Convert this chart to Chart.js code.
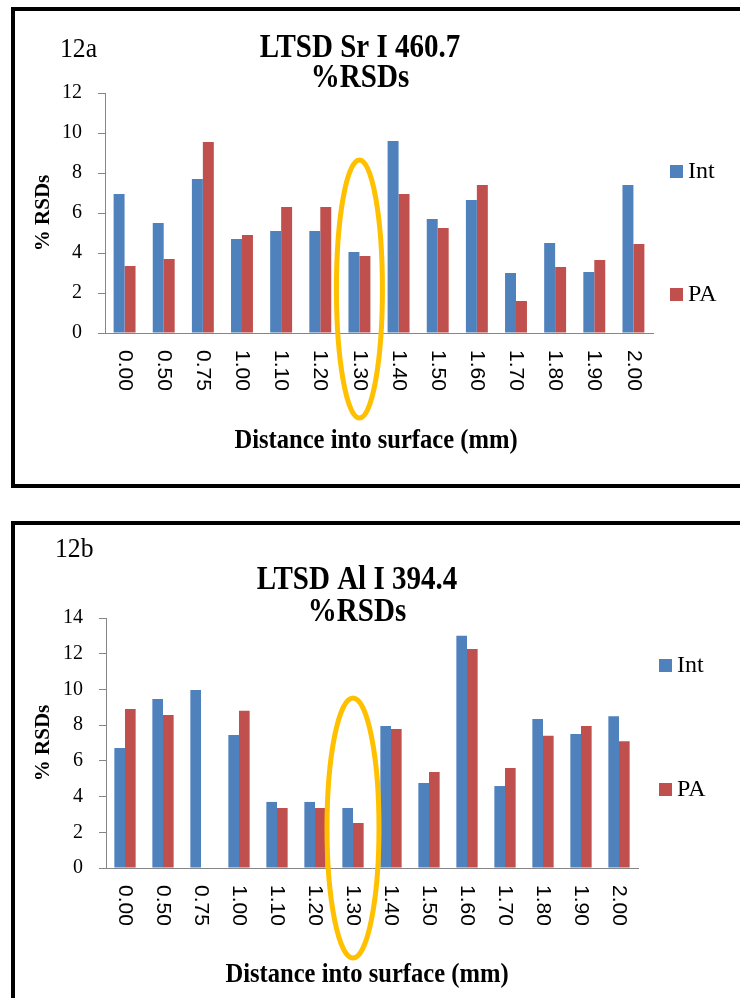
<!DOCTYPE html>
<html><head><meta charset="utf-8">
<script src="https://cdn.jsdelivr.net/npm/chart.js@4.4.1/dist/chart.umd.min.js"></script>
<style>
html,body{margin:0;padding:0;background:#fff;}
body{width:740px;height:998px;position:relative;overflow:hidden;}
.box{position:absolute;left:11px;width:800px;border:4px solid #000;box-sizing:border-box;}
canvas{position:absolute;left:0;}
</style></head><body>
<div class="box" style="top:7px;height:481px;"></div>
<div class="box" style="top:521px;height:600px;"></div>
<canvas id="c1" width="740" height="490" style="top:0"></canvas>
<canvas id="c2" width="740" height="498" style="top:500px"></canvas>
<script>
const categories = ['0.00','0.50','0.75','1.00','1.10','1.20','1.30','1.40','1.50','1.60','1.70','1.80','1.90','2.00'];
const seriesNames = ['Int','PA'];
const srInt = [6.95, 5.5, 7.7, 4.7, 5.1, 5.1, 4.05, 9.6, 5.7, 6.65, 3.0, 4.5, 3.05, 7.4];
const srPA  = [3.35, 3.7, 9.55, 4.9, 6.3, 6.3, 3.85, 6.95, 5.25, 7.4, 1.6, 3.3, 3.65, 4.45];
const alInt = [6.72, 9.47, 9.97, 7.45, 3.7, 3.7, 3.36, 7.95, 4.76, 13.0, 4.59, 8.35, 7.5, 8.5];
const alPA  = [8.9, 8.57, null, 8.8, 3.36, 3.36, 2.52, 7.79, 5.38, 12.27, 5.6, 7.4, 7.95, 7.1];
const topTitle = ['LTSD Sr I 460.7', '%RSDs'];
const botTitle = ['LTSD Al I 394.4', '%RSDs'];
const yTitle = '% RSDs';
const xTitle = 'Distance into surface (mm)';
const highlight = '1.30';

const COL_INT = '#4F81BD', COL_PA = '#C0504D';

function squeezedText(ctx, txt, x, y, sx) {
  ctx.save(); ctx.translate(x, y); ctx.scale(sx, 1); ctx.fillText(txt, 0, 0); ctx.restore();
}

const decor = {
  id: 'decor',
  afterDraw(chart) {
    const o = chart.options.plugins.decor;
    const ctx = chart.ctx, xs = chart.scales.x;
    ctx.save();
    ctx.fillStyle = '#000';
    // tag
    ctx.font = '27px "Liberation Serif"'; ctx.textAlign = 'left'; ctx.textBaseline = 'alphabetic';
    squeezedText(ctx, o.tag, o.tagX, o.tagY, 0.95);
    // title
    ctx.font = 'bold 33px "Liberation Serif"'; ctx.textAlign = 'center';
    squeezedText(ctx, o.title[0], o.titleX, o.titleY1, 0.88);
    squeezedText(ctx, o.title[1], o.titleX, o.titleY2, 0.88);
    // y title
    ctx.save();
    ctx.translate(o.yTitleX, (chart.chartArea.top + chart.chartArea.bottom) / 2);
    ctx.rotate(-Math.PI / 2);
    ctx.font = 'bold 21px "Liberation Serif"'; ctx.textAlign = 'center'; ctx.textBaseline = 'middle';
    ctx.fillText(yTitle, 0, 0);
    ctx.restore();
    // x tick labels rotated clockwise
    ctx.font = '21px "Liberation Sans"'; ctx.textAlign = 'left'; ctx.textBaseline = 'middle';
    chart.data.labels.forEach((lab, i) => {
      const x = xs.getPixelForValue(i);
      ctx.save(); ctx.translate(x, chart.chartArea.bottom + o.xLabGap); ctx.rotate(Math.PI / 2);
      ctx.fillText(lab, 0, 0); ctx.restore();
    });
    // x title
    ctx.font = 'bold 27px "Liberation Serif"'; ctx.textAlign = 'center'; ctx.textBaseline = 'alphabetic';
    squeezedText(ctx, xTitle, o.xTitleX, o.xTitleY, 0.91);
    // legend
    chart.data.datasets.forEach((ds, i) => {
      const p = o.legend[i];
      ctx.fillStyle = ds.backgroundColor; ctx.fillRect(p[0], p[1], 13, 13);
      ctx.fillStyle = '#000'; ctx.font = '24px "Liberation Serif"';
      ctx.textAlign = 'left'; ctx.textBaseline = 'middle';
      ctx.fillText(ds.label, p[0] + 18, p[1] + 7);
    });
    // highlight ellipse
    const cx = xs.getPixelForValue(chart.data.labels.indexOf(highlight));
    ctx.beginPath();
    ctx.ellipse(cx + o.ring.dx, o.ring.cy, o.ring.rx, o.ring.ry, 0, 0, Math.PI * 2);
    ctx.lineWidth = 5; ctx.strokeStyle = '#FFC000'; ctx.stroke();
    ctx.restore();
  }
};

function makeChart(id, intVals, paVals, ymax, lay, dec) {
  return new Chart(document.getElementById(id), {
    type: 'bar',
    data: {
      labels: categories,
      datasets: [
        { label: seriesNames[0], data: intVals, backgroundColor: COL_INT },
        { label: seriesNames[1], data: paVals, backgroundColor: COL_PA }
      ]
    },
    options: {
      responsive: false, animation: false, devicePixelRatio: 1,
      layout: { padding: { top: lay.top, right: lay.right, left: 0, bottom: 0 } },
      datasets: { bar: { categoryPercentage: 0.56, barPercentage: 1.0 } },
      plugins: { legend: { display: false }, title: { display: false }, tooltip: { enabled: false }, decor: dec },
      scales: {
        x: {
          grid: { display: false },
          border: { display: true, color: '#868686', width: 1 },
          ticks: { display: false },
          afterFit(s) { s.height = lay.xh; }
        },
        y: {
          min: 0, max: ymax,
          ticks: { stepSize: 2, padding: 16, color: '#000', font: { family: 'Liberation Serif', size: 20 } },
          grid: { drawOnChartArea: false, tickLength: 7, color: '#868686' },
          border: { display: true, color: '#868686', width: 1 },
          afterFit(s) { s.width = lay.yw; }
        }
      }
    },
    plugins: [decor]
  });
}

makeChart('c1', srInt, srPA, 12, { top: 93, right: 87, xh: 157, yw: 105 }, {
  tag: '12a', tagX: 60, tagY: 57,
  title: topTitle, titleX: 360, titleY1: 57, titleY2: 87,
  yTitleX: 44, xLabGap: 17, xTitleX: 376, xTitleY: 448,
  legend: [[670, 165], [670, 288]],
  ring: { dx: 0, cy: 289, rx: 23, ry: 129 }
});

makeChart('c2', alInt, alPA, 14, { top: 118, right: 102, xh: 130, yw: 106 }, {
  tag: '12b', tagX: 55, tagY: 57,
  title: botTitle, titleX: 357, titleY1: 89, titleY2: 121,
  yTitleX: 44, xLabGap: 17, xTitleX: 367, xTitleY: 482,
  legend: [[659, 159], [659, 283]],
  ring: { dx: 0, cy: 328, rx: 26, ry: 130 }
});
</script>
</body></html>
